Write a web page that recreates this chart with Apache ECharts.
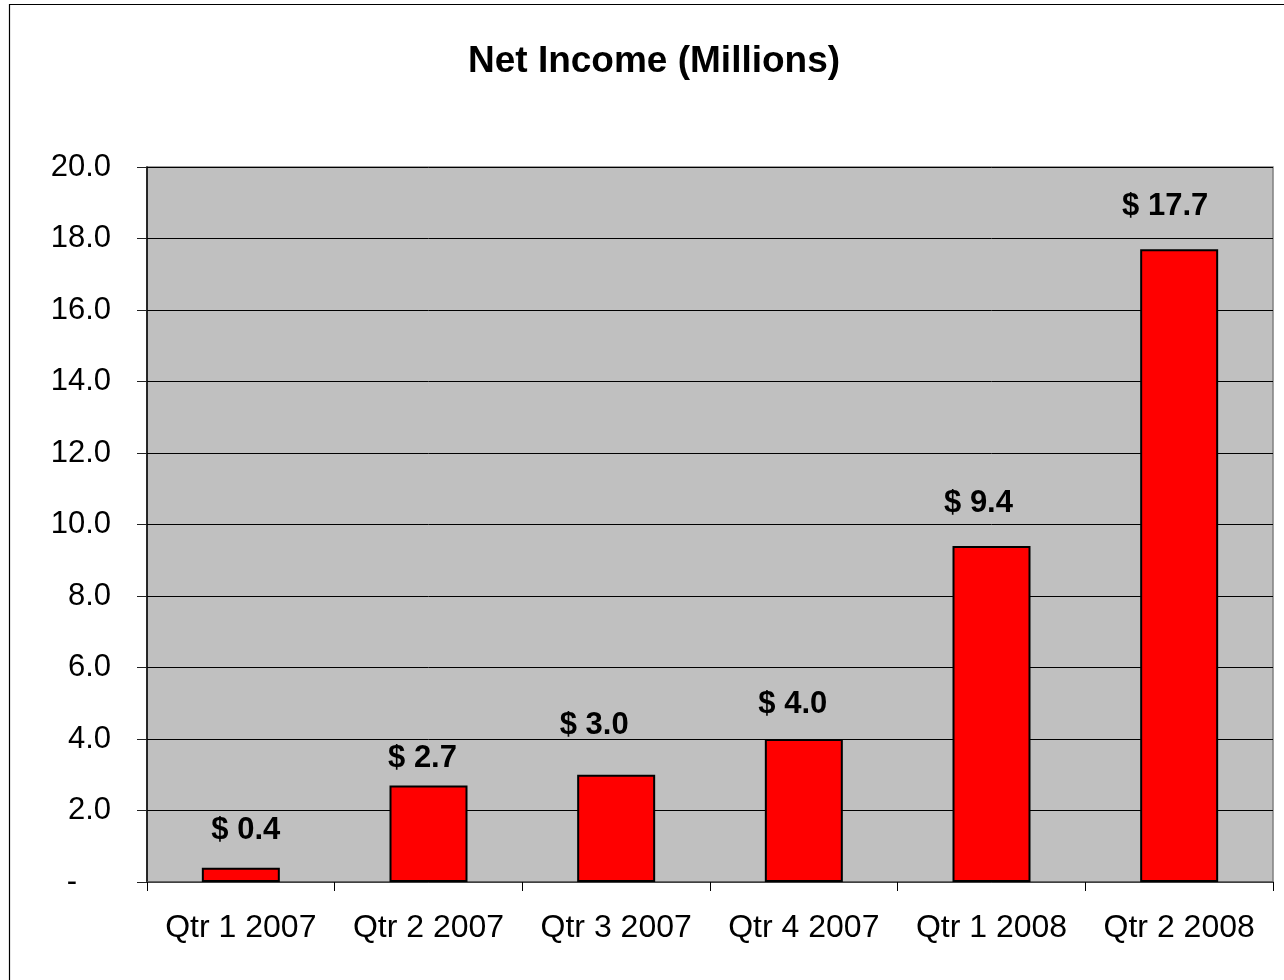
<!DOCTYPE html>
<html>
<head>
<meta charset="utf-8">
<title>Net Income (Millions)</title>
<script src="https://cdn.jsdelivr.net/npm/echarts@6/dist/echarts.min.js"></script>
<style>
  html, body { margin: 0; padding: 0; background: #fff; }
  #chart { width: 1284px; height: 980px; }
</style>
</head>
<body>
<div id="chart"></div>
<script>
// Quarterly net income, millions of dollars
const quarters = ['Qtr 1 2007', 'Qtr 2 2007', 'Qtr 3 2007', 'Qtr 4 2007', 'Qtr 1 2008', 'Qtr 2 2008'];
const netIncome = [0.4, 2.7, 3.0, 4.0, 9.4, 17.7];
const yTicks = [0, 2, 4, 6, 8, 10, 12, 14, 16, 18, 20];

// Per-bar nudges for the value labels [dx, dy]
const labelNudge = [[5, -22], [-6, -12], [-22, -34], [-11, -19], [-13, -27], [-14, -27]];

const FONT = '"Liberation Sans", Arial, sans-serif';

const chart = echarts.init(document.getElementById('chart'), null, { renderer: 'canvas' });

chart.setOption({
  animation: false,
  backgroundColor: '#ffffff',
  graphic: [{
    type: 'rect',
    shape: { x: 9.5, y: 4.5, width: 1300, height: 1000 },
    style: { fill: 'none', stroke: '#000000', lineWidth: 1.2 },
    silent: true,
    z: 100
  }],
  title: {
    text: 'Net Income (Millions)',
    left: 468,
    top: 43,
    padding: 0,
    textStyle: { fontFamily: FONT, fontSize: 37, fontWeight: 'bold', color: '#000' }
  },
  grid: {
    left: 147,
    top: 167,
    right: 11,
    bottom: 98,
    show: true,
    backgroundColor: '#C0C0C0',
    borderColor: '#808080',
    borderWidth: 1.5
  },
  xAxis: {
    type: 'category',
    data: quarters,
    boundaryGap: true,
    axisLine: { show: true, lineStyle: { color: '#555555', width: 1.5 } },
    axisTick: { show: true, length: 9, interval: 0, lineStyle: { color: '#000000', width: 1 } },
    axisLabel: { margin: 30, interval: 0, fontFamily: FONT, fontSize: 32, color: '#000' },
    splitLine: { show: false }
  },
  yAxis: {
    type: 'value',
    min: yTicks[0],
    max: yTicks[yTicks.length - 1],
    interval: yTicks[1] - yTicks[0],
    axisLine: { show: true, lineStyle: { color: '#000000', width: 1.5 } },
    axisTick: { show: true, length: 10, lineStyle: { color: '#222222', width: 1 } },
    axisLabel: {
      margin: 36,
      fontFamily: FONT,
      fontSize: 31,
      color: '#000',
      formatter: function (v) {
        return v === 0 ? '{dash|-}' : v.toFixed(1);
      },
      rich: {
        dash: { fontFamily: FONT, fontSize: 31, color: '#000', padding: [0, 34, 0, 0] }
      }
    },
    splitLine: { show: true, lineStyle: { color: '#000000', width: 1 } }
  },
  series: [{
    type: 'bar',
    barWidth: 78,
    data: netIncome.map(function (v, i) {
      return {
        value: v,
        label: { offset: labelNudge[i] }
      };
    }),
    itemStyle: { color: '#FF0000', borderColor: '#000000', borderWidth: 2 },
    label: {
      show: true,
      position: 'top',
      distance: 0,
      fontFamily: FONT,
      fontSize: 31,
      fontWeight: 'bold',
      color: '#000',
      formatter: function (p) { return '$ ' + p.value.toFixed(1); }
    }
  }]
});
</script>
</body>
</html>
